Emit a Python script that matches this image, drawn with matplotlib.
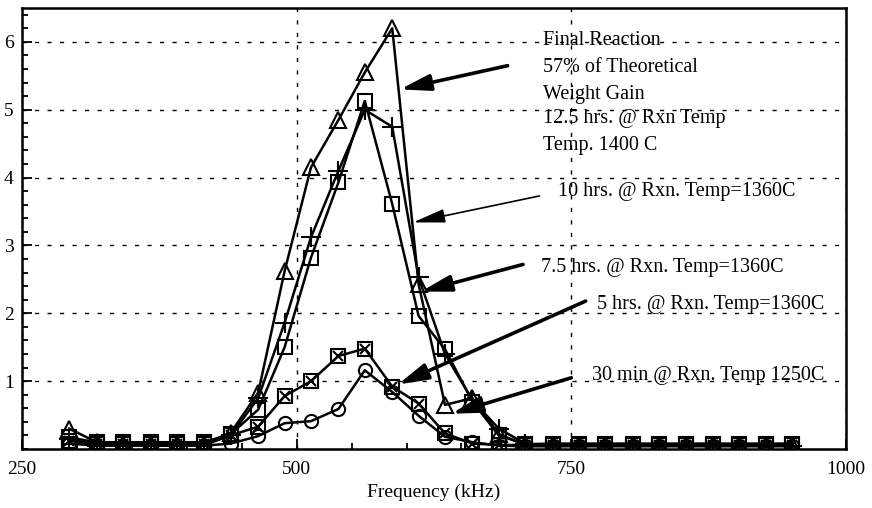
import numpy as np
import matplotlib
matplotlib.use("Agg")
import matplotlib.pyplot as plt
from matplotlib.ticker import MultipleLocator

plt.rcParams['font.family'] = ['Liberation Serif', 'DejaVu Serif']

# frequency (kHz) of each measurement
freq = [293, 318, 342, 367, 391, 416, 440, 465, 489, 513, 538, 562, 587, 611,
        635, 660, 684, 708, 733, 757, 781, 806, 830, 854, 879, 903, 927, 951]

# Final reaction, 12.5 hrs @ 1400 C (triangles)
final_12h = [0.30, 0.10, 0.08, 0.07, 0.07, 0.08, 0.24, 0.83, 2.62, 4.15, 4.85, 5.55, 6.20, 2.43,
             0.65, 0.75, 0.22, 0.06, 0.06, 0.06, 0.06, 0.06, 0.06, 0.06, 0.06, 0.06, 0.06, 0.06]
# 10 hrs @ 1360 C (plus)
hrs_10 = [0.15, 0.05, 0.06, 0.05, 0.05, 0.06, 0.20, 0.75, 1.86, 3.12, 4.10, 5.00, 4.75, 2.53,
          1.40, 0.72, 0.30, 0.08, 0.05, 0.05, 0.05, 0.05, 0.05, 0.05, 0.05, 0.05, 0.05, 0.05]
# 7.5 hrs @ 1360 C (squares)
hrs_7_5 = [0.17, 0.10, 0.10, 0.10, 0.10, 0.10, 0.22, 0.58, 1.50, 2.82, 3.93, 5.13, 3.61, 1.96,
           1.47, 0.70, 0.20, 0.07, 0.08, 0.08, 0.08, 0.08, 0.08, 0.08, 0.08, 0.08, 0.08, 0.08]
# 5 hrs @ 1360 C (boxed x)
hrs_5 = [0.12, 0.08, 0.08, 0.08, 0.08, 0.08, 0.20, 0.33, 0.78, 1.00, 1.37, 1.48, 0.92, 0.67,
         0.23, 0.08, 0.06, 0.06, 0.06, 0.06, 0.06, 0.06, 0.06, 0.06, 0.06, 0.06, 0.06, 0.06]
# 30 min @ 1250 C (circles)
min_30 = [0.08, 0.05, 0.05, 0.05, 0.05, 0.05, 0.08, 0.19, 0.38, 0.41, 0.59, 1.16, 0.84, 0.49,
          0.18, 0.10, 0.05, 0.04, 0.04, 0.04, 0.04, 0.04, 0.04, 0.04, 0.04, 0.04, 0.04, 0.04]

x_ticks = [250, 500, 750, 1000]
y_ticks = [1, 2, 3, 4, 5, 6]

fig = plt.figure(figsize=(8.72, 5.08), dpi=100)
ax = fig.add_axes([22 / 872, 59 / 508, 824 / 872, 441 / 508])

lw = 1.8
common = dict(color='black', lw=lw, mfc='none', mec='black', mew=1.5)
ax.plot(freq, min_30, marker='o', ms=9.5, **common)
ax.plot(freq, hrs_5, marker='s', ms=9.5, **common)
ax.plot(freq, hrs_5, ls='none', marker='x', ms=6.5, mec='black', mew=1.5)
ax.plot(freq, hrs_7_5, marker='s', ms=10, **common)
ax.plot(freq, hrs_10, marker='+', ms=15, **common)
ax.plot(freq, final_12h, marker='^', ms=12, **common)

ax.set_xlim(250, 1000)
ax.set_ylim(0, 6.5)
ax.set_xticks(x_ticks)
ax.set_yticks(y_ticks)
ax.xaxis.set_minor_locator(MultipleLocator(50))
ax.yaxis.set_minor_locator(MultipleLocator(0.2))
ax.tick_params(which='both', direction='in', top=False, right=False, labelsize=14, width=1.3)
ax.tick_params(which='major', length=7)
ax.tick_params(which='minor', length=4)
ax.tick_params(axis='x', pad=9)
ax.tick_params(axis='y', pad=6)
ax.grid(True, which='major', color='black', lw=1.0, ls=(0, (3, 6)))
for s in ax.spines.values():
    s.set_linewidth(1.8)
ax.set_xlabel('Frequency (kHz)', fontsize=14, labelpad=4)

# annotations
fs = 14.5
block = ['Final Reaction', '57% of Theoretical', 'Weight Gain',
         '12.5 hrs. @ Rxn Temp', 'Temp. 1400 C']
block_y = [6.02, 5.63, 5.23, 4.87, 4.48]
for t, yy in zip(block, block_y):
    ax.text(724, yy, t, fontsize=fs, va='center', ha='left')

ax.text(738, 3.80, '10 hrs. @ Rxn. Temp=1360C', fontsize=fs, va='center')
ax.text(722, 2.68, '7.5 hrs. @ Rxn. Temp=1360C', fontsize=fs, va='center')
ax.text(773, 2.13, '5 hrs. @ Rxn. Temp=1360C', fontsize=fs, va='center')
ax.text(769, 1.08, '30 min @ Rxn. Temp 1250C', fontsize=fs, va='center')

thick = dict(arrowstyle='-|>,head_length=1.3,head_width=0.35', color='black',
             lw=2.6, mutation_scale=14, shrinkA=0, shrinkB=0)
thin = dict(arrowstyle='-|>,head_length=1.4,head_width=0.3', color='black',
            lw=1.2, mutation_scale=14, shrinkA=0, shrinkB=0)
ax.annotate('', xy=(594, 5.30), xytext=(692, 5.65), arrowprops=thick)
ax.annotate('', xy=(606, 3.34), xytext=(721, 3.73), arrowprops=thin)
ax.annotate('', xy=(613, 2.32), xytext=(706, 2.72), arrowprops=thick)
ax.annotate('', xy=(592, 0.95), xytext=(763, 2.18), arrowprops=thick)
ax.annotate('', xy=(641, 0.52), xytext=(750, 1.05), arrowprops=thick)

fig.savefig('out.png', dpi=100)
